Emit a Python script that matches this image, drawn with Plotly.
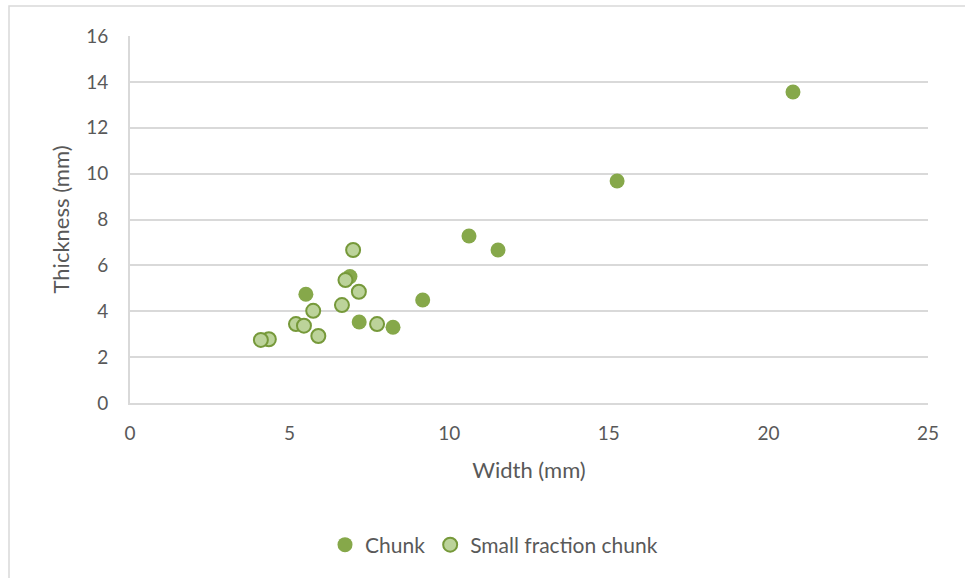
import plotly.graph_objects as go

chunk_width = [5.51, 6.89, 7.18, 8.24, 9.17, 10.62, 11.53, 15.26, 20.77]
chunk_thick = [4.74, 5.51, 3.53, 3.30, 4.49, 7.28, 6.67, 9.68, 13.56]

small_width = [4.35, 4.10, 5.20, 5.45, 5.74, 5.90, 6.64, 6.75, 6.99, 7.17, 7.74]
small_thick = [2.78, 2.75, 3.44, 3.37, 4.02, 2.92, 4.27, 5.36, 6.67, 4.85, 3.44]

x_ticks = [0, 5, 10, 15, 20, 25]
y_ticks = [0, 2, 4, 6, 8, 10, 12, 14, 16]

FONT = "Lato, 'Open Sans', sans-serif"
GRAY = "#595959"

L, T, PW, PH = 130, 36, 798, 367

fig = go.Figure()
fig.add_trace(go.Scatter(
    x=chunk_width, y=chunk_thick, mode="markers", name="Chunk",
    marker=dict(size=15, color="#86a84a", line=dict(width=0)),
))
fig.add_trace(go.Scatter(
    x=small_width, y=small_thick, mode="markers", name="Small fraction chunk",
    marker=dict(size=14, color="#bcd39a", line=dict(width=2, color="#76993a")),
))

fig.update_layout(
    width=965, height=578,
    margin=dict(l=L, r=965 - L - PW, t=T, b=578 - T - PH),
    paper_bgcolor="white", plot_bgcolor="white",
    font=dict(family=FONT, color=GRAY, size=19),
    showlegend=True,
    legend=dict(orientation="h", x=(494 - 130) / PW, xanchor="center",
                y=(403 - 545) / PH, yanchor="middle",
                font=dict(size=21, color=GRAY), itemsizing="trace", traceorder="normal"),
    xaxis=dict(range=[0, 25], tickvals=x_ticks, ticktext=[str(v) for v in x_ticks],
               showgrid=False, showline=True, linecolor="#d9d9d9", linewidth=2,
               zeroline=False, ticks="", tickfont=dict(size=19, color=GRAY),
               ticklabelstandoff=12,
               title=dict(text="Width (mm)", font=dict(size=22, color=GRAY), standoff=20)),
    yaxis=dict(range=[0, 16], tickvals=y_ticks, ticktext=[str(v) for v in y_ticks],
               showgrid=True, gridcolor="#d9d9d9", gridwidth=2,
               showline=True, linecolor="#d9d9d9", linewidth=2,
               zeroline=False, ticks="", tickfont=dict(size=19, color=GRAY),
               ticklabelstandoff=16,
               title=dict(text="Thickness (mm)", font=dict(size=22, color=GRAY), standoff=10)),
    shapes=[dict(type="rect", xref="paper", yref="paper",
                 x0=(9 - 130) / PW, x1=(990 - 130) / PW,
                 y0=(403 - 600) / PH, y1=(403 - 6) / PH,
                 line=dict(color="#d9d9d9", width=1.5), fillcolor="rgba(0,0,0,0)", layer="below")],
)

fig.write_html("out.html", config={"displayModeBar": False},
               post_script="document.body.style.margin='0';")
